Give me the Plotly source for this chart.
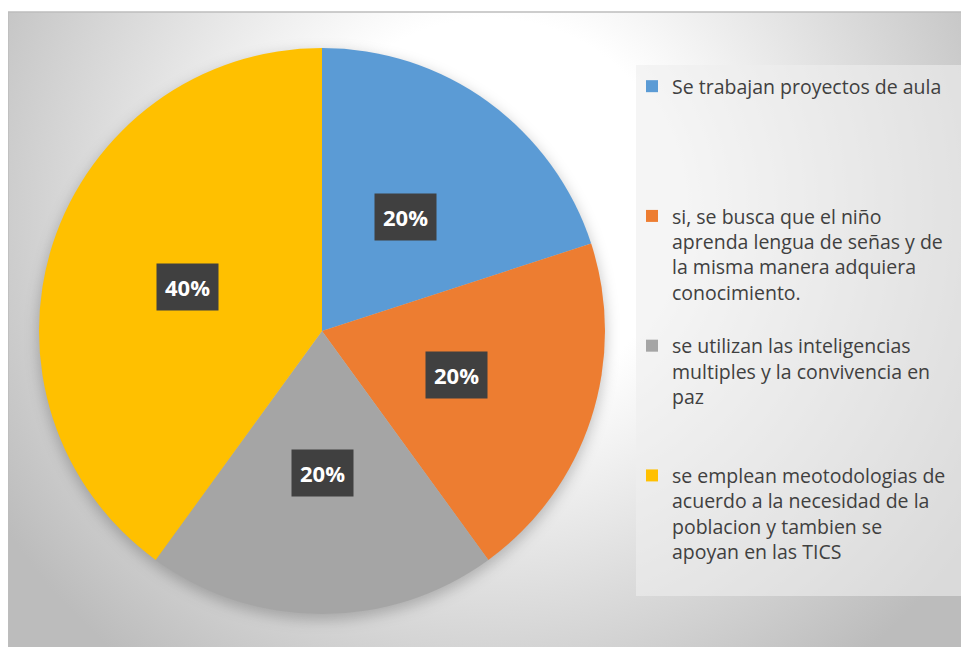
import base64
import math

import plotly.graph_objects as go

# the page puts the figure 8px in from the top-left corner
OFF = 8
PAGE_W, PAGE_H = 969, 647
W, H = PAGE_W - OFF, PAGE_H - OFF

legend_labels = [
    "Se trabajan proyectos de aula",
    "si, se busca que el niño<br>aprenda lengua de señas y de<br>la misma manera adquiera<br>conocimiento.",
    "se utilizan las inteligencias<br>multiples y la convivencia en<br>paz",
    "se emplean meotodologias de<br>acuerdo a la necesidad de la<br>poblacion y tambien se<br>apoyan en las TICS",
]
values = [20, 20, 20, 40]
colors = ["#5B9BD5", "#ED7D31", "#A5A5A5", "#FFC000"]

# layout constants (page pixels)
FRAME_X, FRAME_Y = 8, 12
CX, CY, R = 322, 331, 283
LEG_BOX = (636, 65, 967, 596)
LINES_PER_ITEM = 5


def px_x(x):
  return (x - OFF) / W


def px_y(y):
  return 1 - (y - OFF) / H


# pad legend entries with blank lines so items are spread evenly like the original
padded = []
for i, t in enumerate(legend_labels):
  n = t.count("<br>") + 1
  pad = LINES_PER_ITEM - n if i < len(legend_labels) - 1 else 0
  padded.append(t + "<br>&nbsp;" * pad)

# background: radial gradient plus a soft shadow under the pie
fw, fh = PAGE_W - FRAME_X, PAGE_H - FRAME_Y
svg = f"""<svg xmlns='http://www.w3.org/2000/svg' width='{fw}' height='{fh}' viewBox='0 0 {fw} {fh}'>
<defs>
<radialGradient id='g' gradientUnits='userSpaceOnUse' cx='{490 - FRAME_X}' cy='{210 - FRAME_Y}' r='580'>
<stop offset='0' stop-color='#ffffff'/>
<stop offset='0.33' stop-color='#ffffff'/>
<stop offset='1' stop-color='#bcbcbc'/>
</radialGradient>
<filter id='b' x='-20%' y='-20%' width='140%' height='140%'><feGaussianBlur stdDeviation='7'/></filter>
</defs>
<rect width='{fw}' height='{fh}' fill='url(#g)'/>
<circle cx='{CX - FRAME_X}' cy='{CY - FRAME_Y + 5}' r='{R + 1}' fill='#000' fill-opacity='0.22' filter='url(#b)'/>
</svg>"""
bg_src = "data:image/svg+xml;base64," + base64.b64encode(svg.encode()).decode()

fig = go.Figure()

fig.add_trace(
  go.Pie(
    labels=padded,
    values=values,
    marker=dict(colors=colors, line=dict(width=0)),
    sort=False,
    direction="clockwise",
    rotation=0,
    textinfo="none",
    hoverinfo="label+percent",
    domain=dict(
      x=[px_x(CX - R), px_x(CX + R)],
      y=[px_y(CY + R), px_y(CY - R)],
    ),
  )
)

# data labels in dark boxes, placed at half radius on each slice's mid angle
total = sum(values)
cum = 0
annotations = []
for v in values:
  theta = 2 * math.pi * (cum + v / 2) / total
  cum += v
  lx = CX + 0.5 * R * math.sin(theta)
  ly = CY - 0.5 * R * math.cos(theta)
  annotations.append(
    dict(
      x=px_x(lx),
      y=px_y(ly),
      xref="paper",
      yref="paper",
      text=f"<b>{round(100 * v / total)}%</b>",
      showarrow=False,
      font=dict(family="Open Sans, sans-serif", size=22, color="#ffffff"),
      bgcolor="#404040",
      borderpad=8,
      xanchor="center",
      yanchor="middle",
    )
  )

fig.update_layout(
  width=W,
  height=H,
  margin=dict(l=0, r=0, t=0, b=0),
  paper_bgcolor="#ffffff",
  plot_bgcolor="rgba(0,0,0,0)",
  annotations=annotations,
  images=[
    dict(
      source=bg_src,
      xref="paper",
      yref="paper",
      x=px_x(FRAME_X),
      y=px_y(FRAME_Y),
      sizex=fw / W,
      sizey=fh / H,
      xanchor="left",
      yanchor="top",
      sizing="stretch",
      layer="below",
    )
  ],
  shapes=[
    dict(
      type="rect",
      xref="paper",
      yref="paper",
      x0=px_x(FRAME_X),
      x1=1.01,
      y0=-0.01,
      y1=px_y(FRAME_Y),
      line=dict(color="#bdbdbd", width=1.5),
      fillcolor="rgba(0,0,0,0)",
      layer="below",
    ),
    dict(
      type="rect",
      xref="paper",
      yref="paper",
      x0=px_x(LEG_BOX[0]),
      x1=px_x(LEG_BOX[2]),
      y0=px_y(LEG_BOX[3]),
      y1=px_y(LEG_BOX[1]),
      line=dict(width=0),
      fillcolor="rgba(238,238,238,0.6)",
      layer="below",
    ),
  ],
  legend=dict(
    x=px_x(632),
    y=px_y(67),
    xanchor="left",
    yanchor="top",
    bgcolor="rgba(0,0,0,0)",
    font=dict(family="Open Sans, sans-serif", size=19.5, color="#404040"),
    valign="top",
    itemwidth=30,
    tracegroupgap=0,
  ),
  showlegend=True,
)

fig.write_html("out.html")
